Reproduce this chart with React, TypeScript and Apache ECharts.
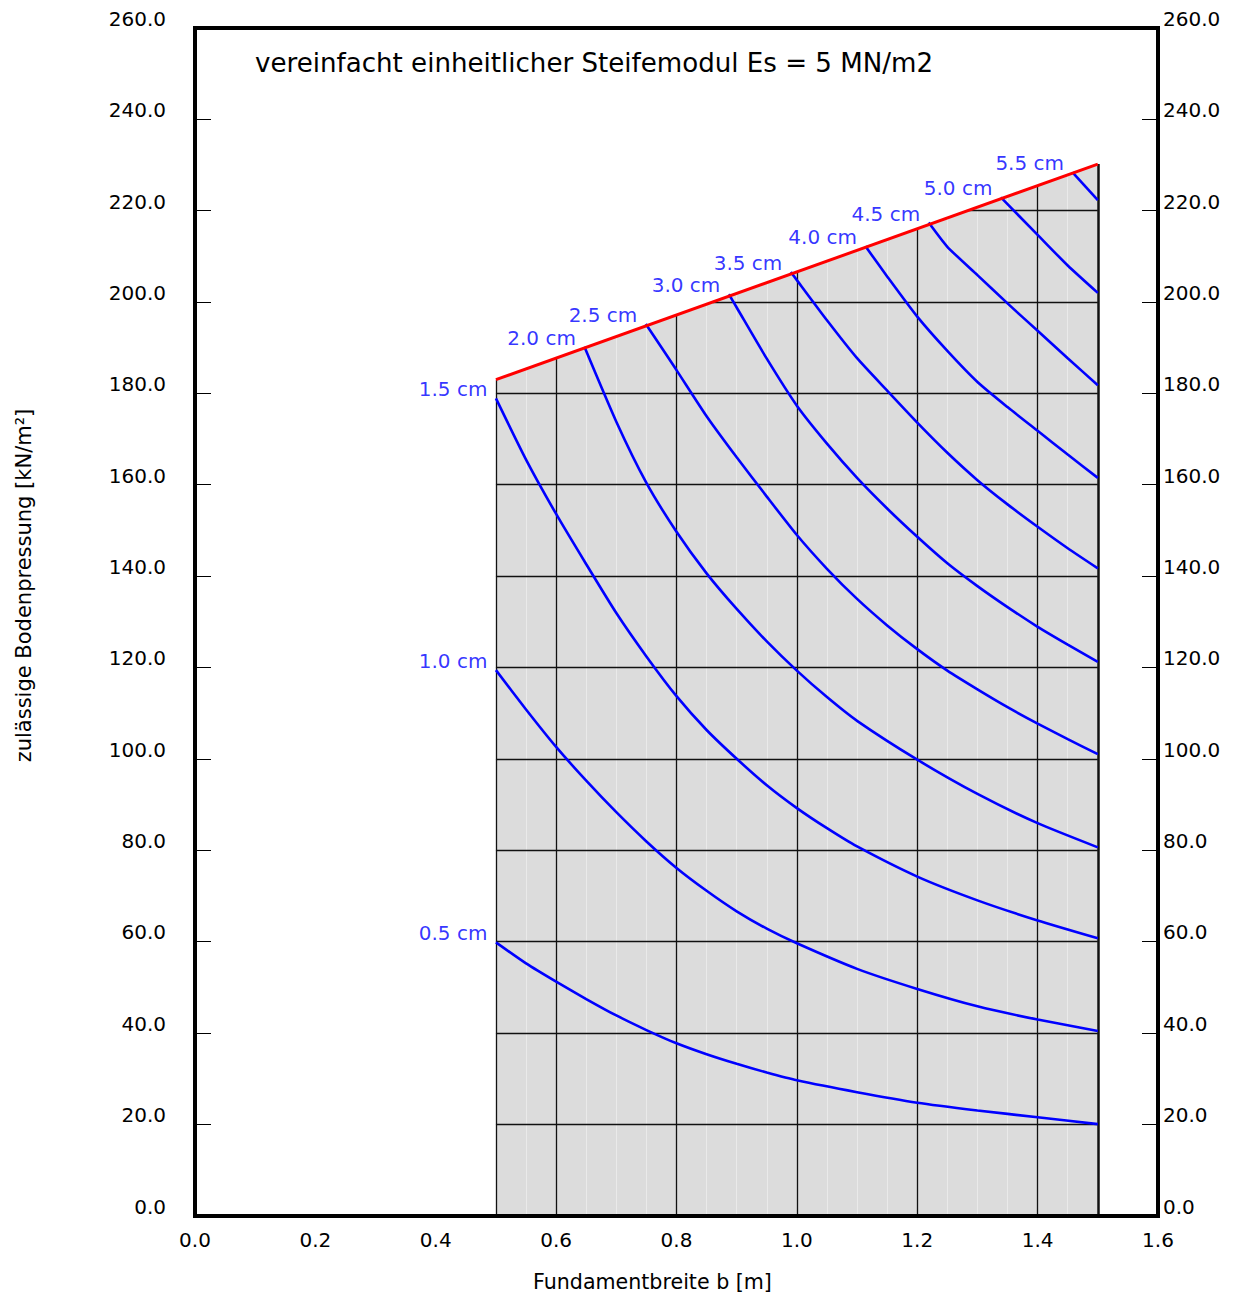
import React, { useEffect, useRef } from "react";
import * as echarts from "echarts";

// ---------- data ----------
const titleText = "vereinfacht einheitlicher Steifemodul Es = 5 MN/m2";
const xAxisName = "Fundamentbreite b [m]";
const yAxisName = "zulässige Bodenpressung [kN/m²]";

// upper limit (red line): [b (m), q (kN/m²)]
const boundary: [number, number][] = [
  [0.5, 183.0],
  [1.5, 230.2],
];

const settlementLabels = ["0.5 cm", "1.0 cm", "1.5 cm", "2.0 cm", "2.5 cm", "3.0 cm", "3.5 cm", "4.0 cm", "4.5 cm", "5.0 cm", "5.5 cm"];

const curve05: [number, number][] = [[0.5, 59.8], [0.55, 55.2], [0.6, 51.2], [0.65, 47.4], [0.7, 43.8], [0.75, 40.6], [0.8, 37.7], [0.85, 35.3], [0.9, 33.2], [0.95, 31.3], [1.0, 29.6], [1.1, 27.0], [1.2, 24.7], [1.3, 23.0], [1.4, 21.5], [1.5, 20.0]];
const curve10: [number, number][] = [[0.5, 119.4], [0.55, 110.8], [0.6, 102.6], [0.65, 95.2], [0.7, 88.3], [0.75, 81.9], [0.8, 76.1], [0.85, 71.1], [0.9, 66.6], [0.95, 62.8], [1.0, 59.6], [1.1, 54.0], [1.2, 49.6], [1.3, 45.8], [1.4, 42.9], [1.5, 40.4]];
const curve15: [number, number][] = [[0.5, 178.9], [0.55, 165.5], [0.6, 153.6], [0.65, 142.6], [0.7, 131.9], [0.75, 122.4], [0.8, 113.7], [0.85, 106.3], [0.9, 100.0], [0.95, 94.2], [1.0, 89.2], [1.05, 84.8], [1.1, 80.8], [1.2, 74.2], [1.3, 69.0], [1.4, 64.6], [1.5, 60.7]];
const curve20: [number, number][] = [[0.647, 190.2], [0.7, 173.8], [0.75, 160.4], [0.8, 149.7], [0.85, 140.6], [0.9, 132.8], [0.95, 125.7], [1.0, 119.3], [1.05, 113.5], [1.1, 108.3], [1.2, 99.8], [1.3, 92.3], [1.4, 85.9], [1.5, 80.6]];
const curve25: [number, number][] = [[0.749, 195.2], [0.8, 185.1], [0.85, 175.0], [0.9, 166.0], [0.95, 157.4], [1.0, 149.0], [1.05, 141.6], [1.1, 135.0], [1.15, 129.2], [1.2, 124.0], [1.25, 119.3], [1.3, 115.2], [1.35, 111.3], [1.4, 107.7], [1.45, 104.3], [1.5, 101.0]];
const curve30: [number, number][] = [[0.887, 201.7], [0.9, 198.8], [0.95, 187.6], [1.0, 177.3], [1.05, 169.0], [1.1, 161.5], [1.15, 154.8], [1.2, 148.6], [1.25, 142.8], [1.3, 137.8], [1.35, 133.2], [1.4, 128.9], [1.45, 125.0], [1.5, 121.2]];
const curve35: [number, number][] = [[0.99, 206.6], [1.0, 204.8], [1.05, 196.0], [1.1, 187.7], [1.15, 180.6], [1.2, 173.6], [1.25, 167.0], [1.3, 161.0], [1.35, 155.7], [1.4, 150.8], [1.45, 146.1], [1.5, 141.7]];
const curve40: [number, number][] = [[1.114, 212.2], [1.15, 205.6], [1.2, 196.8], [1.25, 189.3], [1.3, 182.5], [1.35, 177.0], [1.4, 171.8], [1.45, 166.6], [1.5, 161.5]];
const curve45: [number, number][] = [[1.219, 217.4], [1.25, 212.1], [1.3, 205.9], [1.35, 199.7], [1.4, 193.7], [1.45, 187.7], [1.5, 181.8]];
const curve50: [number, number][] = [[1.339, 222.9], [1.4, 214.7], [1.45, 208.0], [1.5, 202.0]];
const curve55: [number, number][] = [[1.458, 228.4], [1.5, 222.3]];

const curves = [curve05, curve10, curve15, curve20, curve25, curve30, curve35, curve40, curve45, curve50, curve55];

// grid inside the shaded field
const darkGridB = [0.5, 0.6, 0.8, 1.0, 1.2, 1.4, 1.5];
const faintGridB = [0.55, 0.65, 0.7, 0.75, 0.85, 0.9, 0.95, 1.05, 1.1, 1.15, 1.25, 1.3, 1.35, 1.45];
const gridQ = [20, 40, 60, 80, 100, 120, 140, 160, 180, 200, 220];

// ---------- helpers (geometry derived from the data) ----------
function boundaryAt(b: number): number {
  for (let i = 0; i < boundary.length - 1; i++) {
    const [x0, y0] = boundary[i];
    const [x1, y1] = boundary[i + 1];
    if (b >= x0 && b <= x1) return y0 + ((b - x0) / (x1 - x0)) * (y1 - y0);
  }
  return boundary[boundary.length - 1][1];
}
function boundaryInverse(q: number): number {
  for (let i = 0; i < boundary.length - 1; i++) {
    const [x0, y0] = boundary[i];
    const [x1, y1] = boundary[i + 1];
    if (q >= y0 && q <= y1) return x0 + ((q - y0) / (y1 - y0)) * (x1 - x0);
  }
  return boundary[0][0];
}

const FONT = "DejaVu Sans";

export default function App() {
  const ref = useRef<HTMLDivElement>(null);

  useEffect(() => {
    if (!ref.current) return;
    const chart = echarts.init(ref.current, null, { renderer: "svg" });

    const bMin = boundary[0][0];
    const bMax = boundary[boundary.length - 1][0];

    const darkLines = [
      ...darkGridB.map((b) => ({
        coords: [[b, 0], [b, boundaryAt(b)]],
        lineStyle: { width: b === bMax ? 2.5 : 1.3 },
      })),
      ...gridQ.map((q) => ({
        coords: [[q <= boundary[0][1] ? bMin : boundaryInverse(q), q], [bMax, q]],
      })),
    ];
    const faintLines = faintGridB.map((b) => ({ coords: [[b, 0], [b, boundaryAt(b)]] }));

    const fmt = (v: number) => v.toFixed(1);
    const frameLine = { show: true, onZero: false, lineStyle: { color: "#000", width: 4, cap: "square" } };
    const yLabel = (margin: number) => ({
      formatter: fmt, color: "#000", fontFamily: FONT, fontSize: 20, margin,
      verticalAlign: "bottom", lineHeight: 18,
    });

    const option: any = {
      animation: false,
      backgroundColor: "#ffffff",
      grid: { left: 195, top: 28, width: 963, height: 1187.5, containLabel: false },
      xAxis: [
        {
          type: "value", min: 0, max: 1.6, interval: 0.2, position: "bottom", z: 10,
          axisLine: frameLine, axisTick: { show: false }, splitLine: { show: false },
          axisLabel: { formatter: fmt, color: "#000", fontFamily: FONT, fontSize: 20, margin: 14 },
        },
        {
          type: "value", min: 0, max: 1.6, interval: 0.2, position: "top", z: 10,
          axisLine: frameLine, axisTick: { show: false }, splitLine: { show: false }, axisLabel: { show: false },
        },
      ],
      yAxis: [
        {
          type: "value", min: 0, max: 260, interval: 20, position: "left", z: 10,
          axisLine: frameLine,
          axisTick: { show: true, inside: true, length: 16, lineStyle: { color: "#000", width: 1 } },
          splitLine: { show: false },
          axisLabel: yLabel(29),
        },
        {
          type: "value", min: 0, max: 260, interval: 20, position: "right", z: 10,
          axisLine: frameLine,
          axisTick: { show: true, inside: true, length: 16, lineStyle: { color: "#000", width: 1 } },
          splitLine: { show: false },
          axisLabel: yLabel(5),
        },
      ],
      series: [
        {
          type: "line", data: boundary, symbol: "none", z: 1, silent: true,
          lineStyle: { width: 0, opacity: 0 },
          areaStyle: { color: "#dcdcdc", opacity: 1, origin: "start" },
        },
        {
          type: "lines", coordinateSystem: "cartesian2d", data: faintLines, z: 2, silent: true,
          lineStyle: { color: "#eaeaea", width: 1, opacity: 1 },
        },
        {
          type: "lines", coordinateSystem: "cartesian2d", data: darkLines, z: 3, silent: true,
          lineStyle: { color: "#111", width: 1.3, opacity: 1 },
        },
        ...curves.map((c, i) => ({
          type: "line", name: settlementLabels[i], data: c, symbol: "none", z: 4, silent: true,
          smooth: 0.2,
          lineStyle: { color: "#0000ff", width: 2.6 },
        })),
        {
          type: "line", data: boundary, symbol: "none", z: 5, silent: true,
          lineStyle: { color: "#ff0000", width: 3 },
        },
        {
          type: "scatter", z: 6, silent: true, symbolSize: 1,
          itemStyle: { color: "rgba(0,0,0,0)" },
          data: curves.map((c, i) => ({ name: settlementLabels[i], value: c[0] })),
          label: {
            show: true, position: "left", distance: 8, offset: [0, -9], formatter: "{b}",
            color: "#0000ff", fontFamily: FONT, fontSize: 20,
          },
        },
      ],
      graphic: [
        {
          type: "text", x: 255, y: 63, z: 20,
          style: { text: titleText, fill: "#000", fontFamily: FONT, fontSize: 26.1, align: "left", verticalAlign: "middle" },
        },
        {
          type: "text", x: 533, y: 1282, z: 20,
          style: { text: xAxisName, fill: "#000", fontFamily: FONT, fontSize: 20.6, align: "left", verticalAlign: "middle" },
        },
        {
          type: "text", x: 24, y: 585.5, rotation: Math.PI / 2, z: 20,
          style: { text: yAxisName, fill: "#000", fontFamily: FONT, fontSize: 21, align: "center", verticalAlign: "middle" },
        },
      ],
    };

    chart.setOption(option);
    return () => chart.dispose();
  }, []);

  return (
    <div
      ref={ref}
      style={{ position: "absolute", left: 0, top: 0, width: 1238, height: 1298, background: "#fff" }}
    />
  );
}
